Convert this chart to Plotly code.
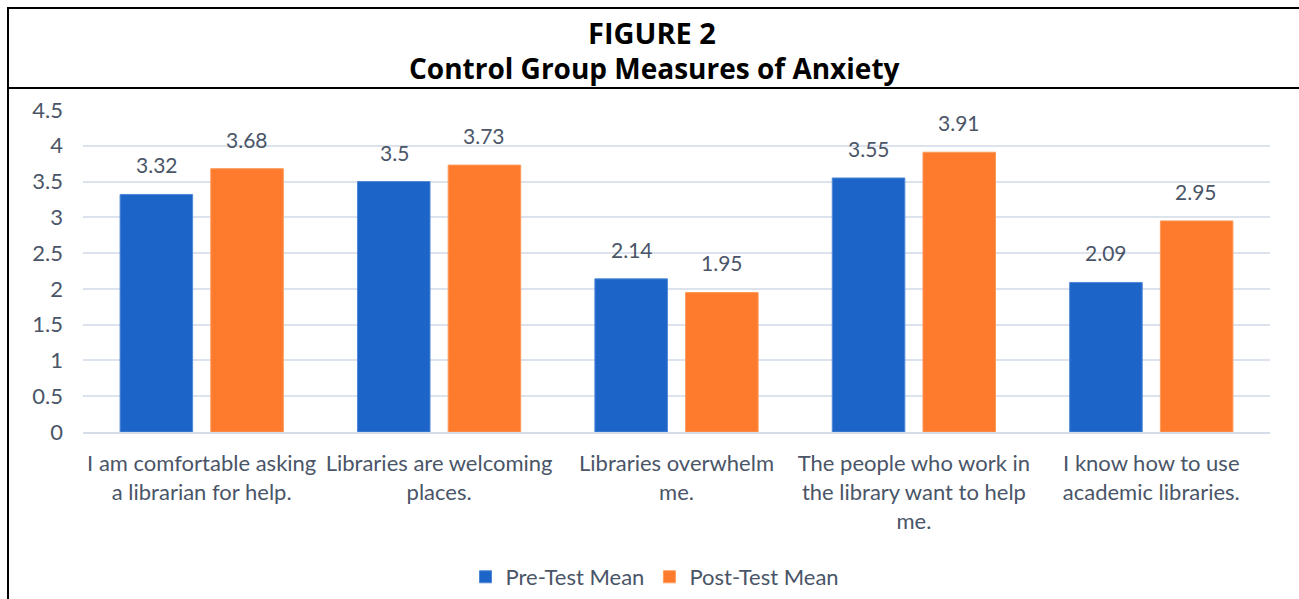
import plotly.graph_objects as go

categories = [
    "I am comfortable asking<br>a librarian for help.",
    "Libraries are welcoming<br>places.",
    "Libraries overwhelm<br>me.",
    "The people who work in<br>the library want to help<br>me.",
    "I know how to use<br>academic libraries.",
]
pre_test = [3.32, 3.5, 2.14, 3.55, 2.09]
post_test = [3.68, 3.73, 1.95, 3.91, 2.95]
pre_labels = ["3.32", "3.5", "2.14", "3.55", "2.09"]
post_labels = ["3.68", "3.73", "1.95", "3.91", "2.95"]
y_ticks = [0, 0.5, 1, 1.5, 2, 2.5, 3, 3.5, 4, 4.5]
y_tick_text = ["0", "0.5", "1", "1.5", "2", "2.5", "3", "3.5", "4", "4.5"]

TEXT = "#4a5568"
FONT = "Lato"
BLUE = "#1c64c8"
ORANGE = "#fe7a2c"

W, H = 1299, 599
ML, MR, MT, MB = 83, 29, 110, 167

fig = go.Figure()
fig.add_trace(go.Bar(
    name="Pre-Test Mean", x=categories, y=pre_test,
    marker=dict(color=BLUE, line=dict(color="#4f88d6", width=1)),
))
fig.add_trace(go.Bar(
    name="Post-Test Mean", x=categories, y=post_test,
    marker=dict(color=ORANGE, line=dict(color="#ff9a5c", width=1)),
))

# data labels above bars (positioned through the axes scales)
for i, c in enumerate(categories):
    fig.add_annotation(x=c, y=pre_test[i], text=pre_labels[i], xref="x", yref="y",
                       showarrow=False, yanchor="bottom", yshift=15, xshift=-45,
                       font=dict(family=FONT, size=21, color=TEXT))
    fig.add_annotation(x=c, y=post_test[i], text=post_labels[i], xref="x", yref="y",
                       showarrow=False, yanchor="bottom", yshift=15, xshift=45,
                       font=dict(family=FONT, size=21, color=TEXT))


def py(pix):
    return (H - MB - pix) / (H - MT - MB)


def px(pix):
    return (pix - ML) / (W - ML - MR)


fig.update_layout(
    width=W, height=H,
    margin=dict(l=ML, r=MR, t=MT, b=MB, autoexpand=False),
    paper_bgcolor="white", plot_bgcolor="white",
    barmode="group", bargap=0.236, bargroupgap=0.2,
    showlegend=True,
    legend=dict(orientation="h", x=px(655), xanchor="center", y=py(577), yanchor="middle",
                font=dict(family=FONT, size=22, color=TEXT), itemwidth=30,
                traceorder="normal"),
    xaxis=dict(showgrid=False, showline=True, linecolor="#d5dde8", linewidth=2,
               tickfont=dict(family=FONT, size=22, color=TEXT), ticks="",
               ticklabelstandoff=11, automargin=False),
    yaxis=dict(range=[0, 4.5], tickvals=y_ticks, ticktext=y_tick_text,
               showgrid=True, gridcolor="#dce3ec", gridwidth=2, zeroline=False,
               tickfont=dict(family=FONT, size=22, color=TEXT), ticks="",
               ticklabelstandoff=19, showline=False, automargin=False),
)

fig.add_annotation(x=px(652), y=py(32), xref="paper", yref="paper", yanchor="middle",
                   text="<b>FIGURE 2</b>", showarrow=False,
                   font=dict(family="Open Sans", size=29, color="black"))
fig.add_annotation(x=px(654), y=py(68), xref="paper", yref="paper", yanchor="middle",
                   text="<b>Control Group Measures of Anxiety</b>", showarrow=False,
                   font=dict(family="Open Sans", size=28, color="black"))

line = dict(color="black", width=2)
fig.add_shape(type="line", xref="paper", yref="paper", x0=px(7), x1=px(1299), y0=py(8), y1=py(8), line=line)
fig.add_shape(type="line", xref="paper", yref="paper", x0=px(7), x1=px(1299), y0=py(88), y1=py(88), line=line)
fig.add_shape(type="line", xref="paper", yref="paper", x0=px(8), x1=px(8), y0=py(7), y1=py(599), line=line)

fig.write_html("out.html")
